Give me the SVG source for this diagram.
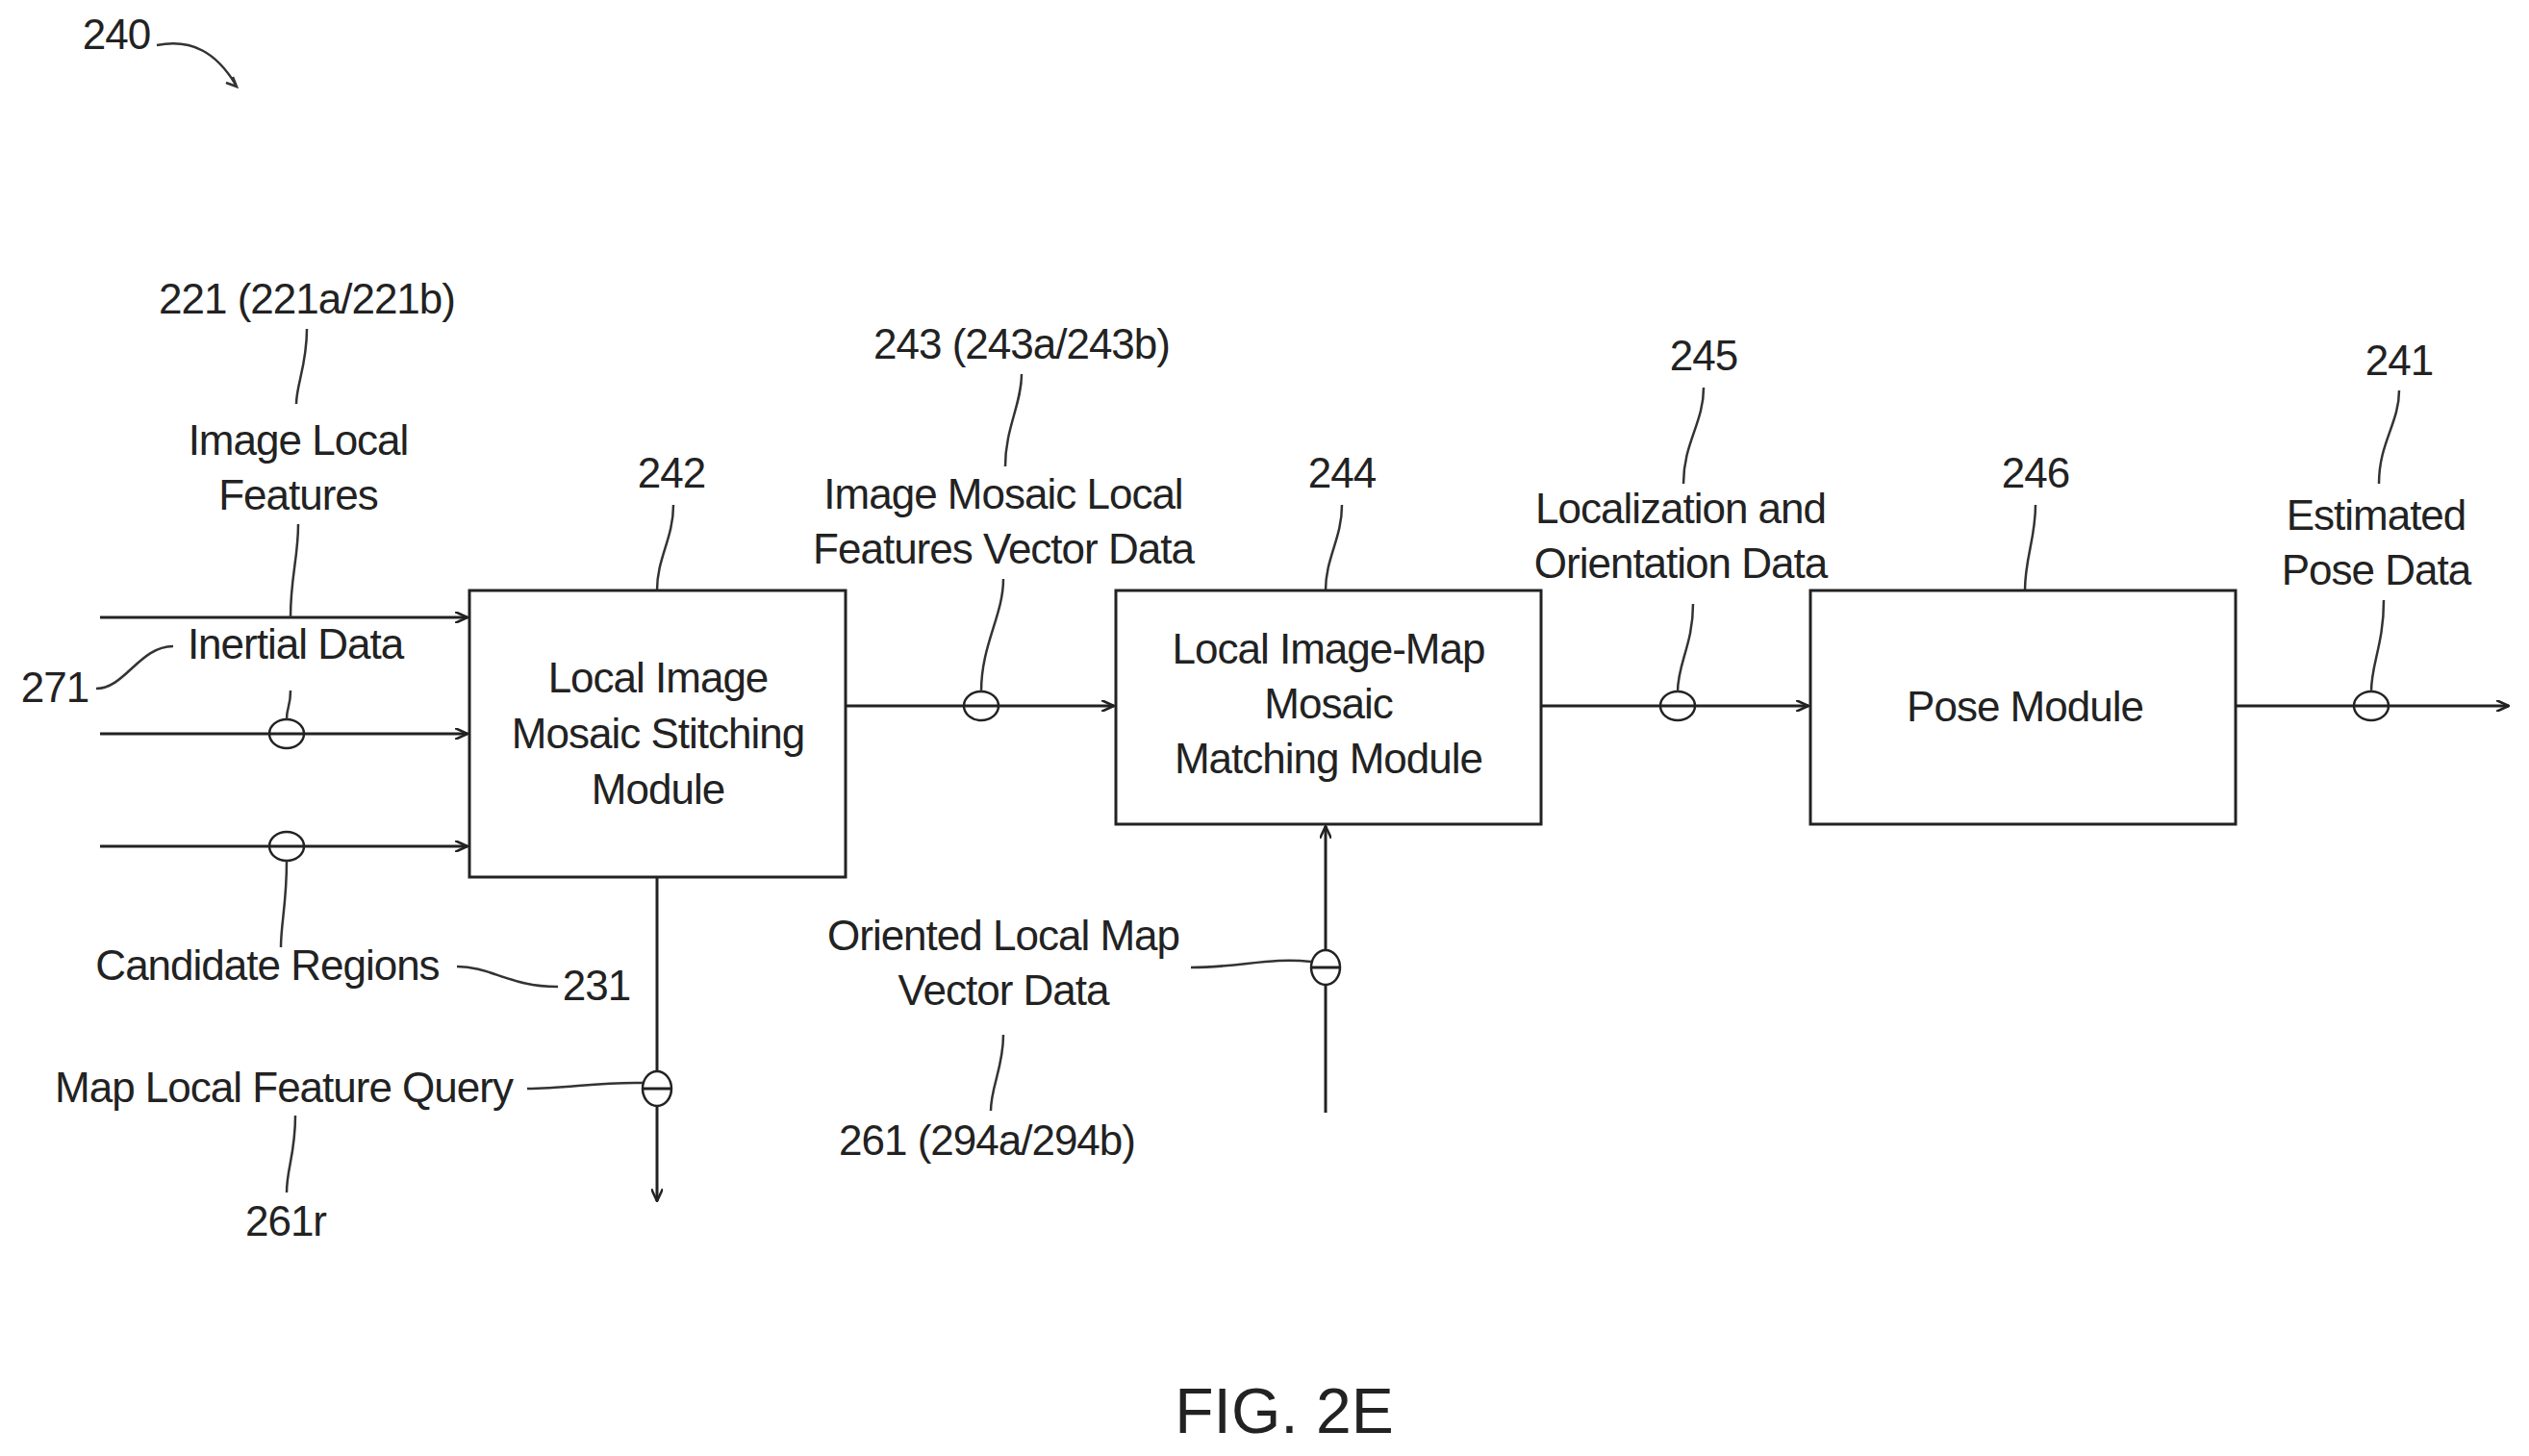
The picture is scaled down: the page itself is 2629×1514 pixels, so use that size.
<svg xmlns="http://www.w3.org/2000/svg" width="2629" height="1514" viewBox="0 0 2629 1514">
<style>
text{font-family:"Liberation Sans",Arial,sans-serif;font-size:44px;fill:#222;text-anchor:middle;letter-spacing:-1px}
.box{fill:#fff;stroke:#222;stroke-width:3}
.ln{fill:none;stroke:#222;stroke-width:3}
.sq{fill:none;stroke:#333;stroke-width:2.5}
.el{fill:#fff;stroke:#222;stroke-width:2.5}
</style>
<defs>
<marker id="ar" markerWidth="14" markerHeight="12" refX="13" refY="6" orient="auto" markerUnits="userSpaceOnUse">
<path d="M0,0 L13,6 L0,12" fill="none" stroke="#222" stroke-width="2.5"/>
</marker>
</defs>
<g id="connectors">
<path class="ln" d="M104,642 H486" marker-end="url(#ar)"/>
<path class="ln" d="M104,763 H486" marker-end="url(#ar)"/>
<path class="ln" d="M104,880 H486" marker-end="url(#ar)"/>
<path class="ln" d="M683,912 V1249" marker-end="url(#ar)"/>
<path class="ln" d="M879,734 H1158" marker-end="url(#ar)"/>
<path class="ln" d="M1378,1157 V859" marker-end="url(#ar)"/>
<path class="ln" d="M1602,734 H1880" marker-end="url(#ar)"/>
<path class="ln" d="M2324,734 H2608" marker-end="url(#ar)"/>
<ellipse class="el" cx="298" cy="763" rx="18" ry="15"/><path class="ln" d="M280,763 H316"/>
<ellipse class="el" cx="298" cy="880" rx="18" ry="15"/><path class="ln" d="M280,880 H316"/>
<ellipse class="el" cx="683" cy="1132" rx="15" ry="18"/><path class="ln" d="M668,1132 H698"/>
<ellipse class="el" cx="1020" cy="734" rx="18" ry="15"/><path class="ln" d="M1002,734 H1038"/>
<ellipse class="el" cx="1378" cy="1006" rx="15" ry="18"/><path class="ln" d="M1363,1006 H1393"/>
<ellipse class="el" cx="1744" cy="734" rx="18" ry="15"/><path class="ln" d="M1726,734 H1762"/>
<ellipse class="el" cx="2465" cy="734" rx="18" ry="15"/><path class="ln" d="M2447,734 H2483"/>
</g>
<g id="leaders">
<path class="sq" d="M163,47 C200,40 225,55 245,88"/>
<path class="sq" d="M242,80 L246,90 L235,86"/>
<path class="sq" d="M319,342 C319,380 308,400 308,420"/>
<path class="sq" d="M310,545 C310,580 302,600 302,642"/>
<path class="sq" d="M302,718 C302,735 298,735 298,748"/>
<path class="sq" d="M100,716 C130,716 145,672 180,672"/>
<path class="sq" d="M298,895 C298,940 292,960 292,985"/>
<path class="sq" d="M475,1005 C510,1005 530,1026 580,1026"/>
<path class="sq" d="M548,1132 C590,1132 620,1125 668,1126"/>
<path class="sq" d="M307,1160 C307,1200 298,1215 298,1240"/>
<path class="sq" d="M683,614 C683,580 700,560 700,525"/>
<path class="sq" d="M1062,389 C1062,420 1045,445 1045,485"/>
<path class="sq" d="M1043,602 C1043,640 1020,670 1020,719"/>
<path class="sq" d="M1395,525 C1395,560 1378,580 1378,614"/>
<path class="sq" d="M1238,1006 C1290,1006 1320,995 1363,1000"/>
<path class="sq" d="M1043,1076 C1043,1110 1030,1130 1030,1155"/>
<path class="sq" d="M1771,403 C1771,440 1750,460 1750,503"/>
<path class="sq" d="M1760,628 C1760,670 1744,690 1744,719"/>
<path class="sq" d="M2116,525 C2116,560 2105,580 2105,614"/>
<path class="sq" d="M2494,406 C2494,440 2473,460 2473,503"/>
<path class="sq" d="M2478,624 C2478,670 2465,690 2465,719"/>
</g>
<g id="n242"><rect class="box" x="488" y="614" width="391" height="298"/>
<text x="684" y="720">Local Image</text><text x="684" y="778">Mosaic Stitching</text><text x="684" y="836">Module</text></g>
<g id="n244"><rect class="box" x="1160" y="614" width="442" height="243"/>
<text x="1381" y="690">Local Image-Map</text><text x="1381" y="747">Mosaic</text><text x="1381" y="804">Matching Module</text></g>
<g id="n246"><rect class="box" x="1882" y="614" width="442" height="243"/>
<text x="2105" y="750">Pose Module</text></g>
<g id="labels">
<text x="121" y="51">240</text>
<text x="319" y="326">221 (221a/221b)</text>
<text x="310" y="473">Image Local</text><text x="310" y="530">Features</text>
<text x="307" y="685">Inertial Data</text>
<text x="57" y="730">271</text>
<text x="278" y="1019">Candidate Regions</text>
<text x="620" y="1040">231</text>
<text x="295" y="1146">Map Local Feature Query</text>
<text x="297" y="1285">261r</text>
<text x="698" y="507">242</text>
<text x="1062" y="373">243 (243a/243b)</text>
<text x="1043" y="529">Image Mosaic Local</text><text x="1043" y="586">Features Vector Data</text>
<text x="1395" y="507">244</text>
<text x="1043" y="988">Oriented Local Map</text><text x="1043" y="1045">Vector Data</text>
<text x="1026" y="1201">261 (294a/294b)</text>
<text x="1771" y="385">245</text>
<text x="1747" y="544">Localization and</text><text x="1747" y="601">Orientation Data</text>
<text x="2116" y="507">246</text>
<text x="2494" y="390">241</text>
<text x="2470" y="551">Estimated</text><text x="2470" y="608">Pose Data</text>
<text x="1335" y="1490" style="font-size:66px;letter-spacing:0">FIG. 2E</text>
</g>
</svg>
